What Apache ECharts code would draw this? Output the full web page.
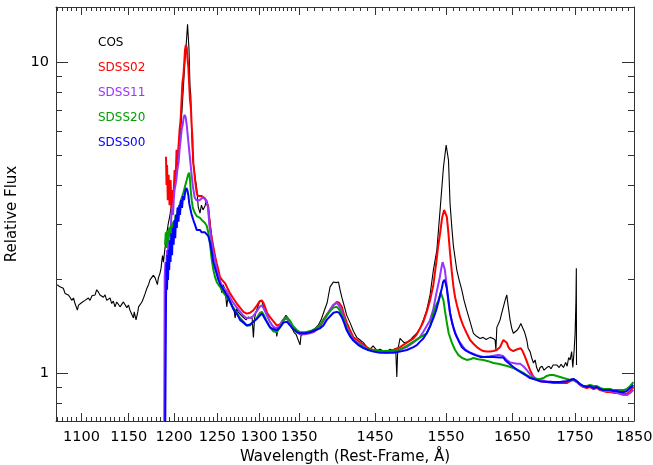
<!DOCTYPE html>
<html>
<head>
<meta charset="utf-8">
<script src="https://cdn.jsdelivr.net/npm/echarts@6/dist/echarts.min.js"></script>
<style>
  html, body { margin: 0; padding: 0; background: #fff; }
  #chart { width: 653px; height: 465px; }
</style>
</head>
<body>
<div id="chart"></div>
<script>
// Rest-frame spectra: HST/COS and four SDSS epochs
const cosWave = [1075.3,1078.0,1081.4,1083.2,1084.9,1086.5,1088.2,1090.0,1091.8,1093.4,1095.8,1097.0,1098.5,1100.1,1102.0,1103.7,1105.5,1107.2,1108.9,1111.0,1114.2,1115.9,1117.6,1119.4,1121.2,1122.9,1124.7,1126.5,1128.2,1130.0,1131.8,1133.5,1135.3,1137.2,1138.9,1140.7,1142.5,1144.3,1146.2,1148.0,1149.8,1151.4,1153.4,1155.2,1156.0,1157.1,1158.0,1159.0,1159.9,1160.8,1162.3,1164.4,1166.2,1168.0,1169.9,1171.7,1173.3,1175.3,1177.1,1179.0,1180.8,1181.5,1182.6,1184.4,1185.6,1186.3,1187.2,1188.3,1189.4,1191.1,1193.4,1195.6,1197.9,1200.1,1202.4,1204.7,1206.9,1209.2,1210.9,1212.6,1214.3,1215.5,1216.4,1217.2,1217.5,1218.3,1219.2,1220.3,1221.4,1222.9,1224.6,1226.0,1227.8,1229.8,1231.5,1233.3,1235.6,1237.4,1239.2,1240.3,1241.5,1243.9,1246.2,1248.6,1250.9,1253.2,1255.2,1256.8,1259.2,1261.2,1262.7,1265.1,1267.5,1269.9,1271.1,1272.9,1274.6,1277.0,1279.5,1281.9,1284.3,1286.7,1289.1,1291.6,1293.2,1294.6,1296.4,1298.9,1301.3,1303.8,1306.2,1308.7,1311.2,1313.6,1316.1,1318.6,1321.1,1321.9,1323.5,1326.0,1328.5,1331.0,1333.5,1336.0,1338.5,1341.1,1343.6,1346.1,1348.6,1351.2,1352.5,1355.0,1358.9,1362.7,1366.6,1370.4,1374.4,1378.2,1382.2,1386.1,1389.9,1394.4,1397.9,1400.9,1403.0,1405.3,1407.4,1411.9,1416.3,1420.8,1425.3,1429.7,1434.2,1438.8,1443.2,1447.3,1452.4,1456.9,1461.1,1466.2,1470.6,1475.0,1478.4,1480.0,1481.2,1484.5,1487.4,1490.1,1494.0,1498.6,1503.3,1508.1,1512.7,1517.4,1522.2,1527.0,1531.8,1536.8,1541.5,1546.4,1550.3,1553.7,1556.0,1558.3,1560.9,1563.4,1565.9,1569.3,1573.2,1576.6,1580.6,1585.6,1590.6,1595.4,1600.6,1605.2,1609.7,1615.7,1620.3,1623.4,1624.6,1626.0,1628.7,1631.0,1633.3,1636.1,1638.7,1641.3,1643.3,1646.4,1649.0,1651.5,1654.2,1657.3,1660.4,1663.1,1666.2,1669.1,1672.5,1674.6,1677.7,1680.1,1683.0,1685.7,1688.1,1691.0,1693.5,1696.7,1699.9,1704.2,1707.9,1711.1,1714.4,1720.4,1724.2,1727.4,1731.2,1734.8,1737.2,1739.7,1742.1,1744.6,1746.5,1748.7,1750.3,1751.7,1752.3,1752.6];
const cosFlux = [1.92,1.89,1.87,1.80,1.82,1.78,1.75,1.71,1.74,1.67,1.59,1.65,1.63,1.68,1.67,1.71,1.69,1.74,1.71,1.77,1.78,1.85,1.82,1.78,1.80,1.75,1.78,1.71,1.71,1.74,1.67,1.70,1.63,1.69,1.67,1.63,1.63,1.69,1.67,1.62,1.65,1.59,1.57,1.50,1.57,1.59,1.48,1.46,1.57,1.63,1.65,1.69,1.74,1.80,1.87,1.92,1.99,1.97,2.06,2.02,2.04,1.92,2.02,2.09,2.17,2.27,2.38,2.27,2.44,2.67,2.99,3.22,3.59,3.87,4.33,4.83,5.61,7.00,8.42,10.13,11.75,13.2,13.3,10.91,10.13,8.32,7.82,5.90,4.86,4.55,4.17,3.93,3.41,3.26,3.46,3.34,3.44,3.59,3.46,3.22,3.06,2.67,2.45,2.27,2.14,2.02,1.81,1.92,1.85,1.63,1.77,1.71,1.65,1.59,1.50,1.61,1.57,1.55,1.52,1.50,1.48,1.51,1.53,1.50,1.30,1.50,1.57,1.64,1.71,1.69,1.61,1.55,1.50,1.46,1.42,1.39,1.37,1.31,1.39,1.41,1.46,1.50,1.53,1.50,1.43,1.39,1.35,1.33,1.34,1.23,1.32,1.33,1.34,1.36,1.37,1.39,1.42,1.48,1.58,1.68,1.89,1.96,1.95,1.96,1.85,1.75,1.68,1.53,1.45,1.36,1.30,1.275,1.25,1.21,1.19,1.22,1.18,1.19,1.175,1.17,1.19,1.18,1.20,0.97,1.18,1.29,1.27,1.25,1.255,1.275,1.31,1.34,1.39,1.48,1.59,1.78,2.14,2.48,3.34,4.59,5.40,4.83,3.51,2.99,2.56,2.34,2.14,1.99,1.85,1.71,1.59,1.46,1.34,1.31,1.29,1.30,1.28,1.30,1.29,1.275,1.184,1.40,1.44,1.48,1.55,1.63,1.71,1.78,1.65,1.48,1.39,1.34,1.34,1.37,1.40,1.44,1.42,1.35,1.275,1.20,1.17,1.12,1.075,1.10,1.04,1.006,1.04,1.05,1.02,1.04,1.05,1.03,1.06,1.06,1.04,1.065,1.04,1.08,1.05,1.12,1.10,1.17,1.04,1.18,1.34,1.71,2.17,1.06];

const sdss02Wave = [1191.1,1191.7,1192.3,1193.1,1194.0,1195.1,1196.2,1197.4,1198.5,1199.6,1200.8,1201.9,1203.0,1204.2,1205.3,1206.4,1207.6,1208.7,1209.6,1210.8,1211.9,1212.6,1213.6,1214.6,1215.3,1216.4,1217.5,1218.3,1219.5,1220.3,1221.2,1222.1,1223.2,1224.1,1225.2,1226.0,1227.5,1229.8,1231.8,1233.7,1235.6,1237.6,1239.5,1241.5,1243.5,1245.4,1247.4,1249.3,1251.3,1253.2,1255.6,1257.2,1259.2,1261.6,1265.1,1268.7,1273.2,1277.0,1281.1,1285.1,1289.1,1293.2,1297.2,1300.1,1303.3,1305.5,1307.4,1309.9,1313.6,1317.3,1321.9,1326.0,1330.2,1334.4,1338.5,1342.7,1347.4,1351.2,1355.4,1359.7,1364.0,1368.2,1372.5,1376.9,1381.2,1385.6,1389.9,1394.4,1398.7,1401.7,1405.3,1408.3,1411.9,1416.3,1420.8,1427.0,1434.2,1440.5,1447.7,1454.1,1461.5,1468.0,1475.4,1484.5,1494.0,1503.3,1508.1,1512.7,1517.4,1522.2,1527.0,1531.8,1535.8,1538.6,1541.5,1544.4,1547.4,1549.6,1551.3,1553.2,1556.0,1558.6,1561.0,1563.4,1566.4,1570.8,1575.2,1580.6,1585.6,1590.6,1595.7,1600.6,1605.6,1610.8,1615.7,1620.8,1626.0,1631.0,1634.1,1636.1,1638.7,1641.3,1643.9,1646.4,1649.0,1651.5,1654.2,1657.3,1660.4,1663.1,1665.9,1669.8,1673.8,1677.7,1683.0,1688.5,1693.5,1704.2,1715.0,1725.7,1736.6,1742.1,1747.6,1753.1,1758.5,1764.1,1769.7,1775.1,1780.8,1786.5,1791.9,1797.5,1803.2,1808.9,1814.6,1820.3,1826.0,1831.7,1837.5,1843.3,1849.0];
const sdss02Flux = [4.95,4.02,4.66,3.59,4.33,3.46,4.17,3.34,3.87,3.73,4.49,4.17,5.21,4.83,5.40,6.03,6.50,7.54,8.56,9.07,10.13,10.91,11.33,11.08,10.37,9.62,8.31,7.54,7.00,6.17,5.61,4.73,4.42,4.17,3.93,3.79,3.70,3.67,3.70,3.67,3.64,3.59,3.41,2.94,2.71,2.54,2.37,2.25,2.14,2.03,1.99,1.99,1.94,1.88,1.80,1.74,1.67,1.62,1.57,1.55,1.56,1.59,1.64,1.69,1.71,1.68,1.63,1.56,1.51,1.47,1.42,1.43,1.48,1.50,1.45,1.39,1.36,1.34,1.34,1.34,1.35,1.35,1.38,1.42,1.48,1.54,1.59,1.65,1.69,1.68,1.63,1.54,1.45,1.37,1.30,1.27,1.23,1.20,1.184,1.175,1.17,1.175,1.184,1.21,1.25,1.29,1.33,1.39,1.46,1.57,1.71,1.92,2.25,2.54,2.81,3.15,3.34,3.31,3.17,2.88,2.43,2.11,1.89,1.75,1.64,1.51,1.42,1.34,1.275,1.24,1.21,1.19,1.175,1.17,1.17,1.175,1.184,1.21,1.25,1.275,1.29,1.25,1.21,1.19,1.19,1.175,1.175,1.19,1.20,1.20,1.175,1.125,1.07,1.02,0.97,0.948,0.94,0.934,0.927,0.927,0.927,0.94,0.948,0.934,0.914,0.90,0.894,0.90,0.887,0.894,0.880,0.874,0.868,0.868,0.862,0.862,0.862,0.862,0.855,0.874,0.90];

const sdss11Wave = [1189.0,1189.6,1190.5,1191.4,1192.2,1193.1,1193.9,1195.0,1196.2,1197.3,1198.1,1199.0,1199.9,1200.7,1201.8,1202.7,1203.9,1205.3,1206.4,1207.6,1208.7,1209.9,1211.0,1212.2,1213.3,1214.8,1215.9,1217.1,1218.5,1219.9,1221.7,1223.6,1225.6,1227.4,1229.3,1231.3,1233.2,1235.2,1237.1,1239.0,1241.0,1243.0,1244.9,1246.8,1248.8,1250.7,1252.7,1256.6,1260.6,1264.6,1268.2,1272.6,1276.6,1280.6,1284.7,1288.7,1292.7,1296.8,1300.9,1303.4,1305.8,1308.3,1313.2,1317.3,1321.4,1325.6,1329.7,1333.9,1338.1,1342.3,1347.0,1350.8,1357.2,1363.6,1370.0,1376.5,1380.8,1385.2,1389.5,1393.9,1398.3,1401.3,1404.9,1407.9,1411.5,1415.9,1420.3,1426.6,1433.8,1440.1,1447.3,1456.5,1465.8,1475.0,1484.1,1493.6,1503.0,1512.3,1517.0,1521.8,1526.6,1531.4,1536.3,1541.1,1543.3,1545.1,1547.0,1548.5,1550.7,1553.3,1555.8,1558.3,1560.7,1565.7,1570.6,1578.1,1585.6,1595.7,1605.7,1615.8,1626.0,1631.0,1636.1,1641.3,1646.4,1651.5,1656.8,1662.0,1667.2,1672.5,1677.7,1683.0,1688.5,1693.5,1704.2,1715.0,1725.7,1736.6,1742.1,1747.6,1753.1,1758.5,1764.1,1769.7,1775.1,1780.8,1786.5,1791.9,1797.5,1803.2,1808.9,1814.6,1820.3,1826.0,1831.7,1837.5,1843.3,1849.0];
const sdss11Flux = [0.5,2.03,2.27,2.14,2.48,2.34,2.71,2.94,2.77,3.29,3.41,3.22,3.64,3.87,4.02,4.17,4.49,4.76,5.21,5.61,6.03,6.26,6.60,6.75,6.65,6.17,5.72,5.30,4.83,4.40,3.96,3.67,3.59,3.56,3.59,3.64,3.67,3.64,3.59,3.41,2.94,2.67,2.48,2.34,2.19,2.08,1.99,1.88,1.84,1.76,1.69,1.63,1.58,1.53,1.50,1.50,1.52,1.57,1.63,1.65,1.61,1.56,1.46,1.41,1.39,1.42,1.48,1.51,1.46,1.39,1.35,1.33,1.33,1.34,1.36,1.40,1.46,1.52,1.59,1.65,1.68,1.65,1.59,1.51,1.41,1.34,1.28,1.25,1.22,1.19,1.175,1.17,1.16,1.17,1.184,1.21,1.25,1.30,1.35,1.41,1.47,1.59,1.81,2.03,2.17,2.27,2.25,2.14,1.94,1.71,1.56,1.47,1.40,1.31,1.25,1.19,1.16,1.14,1.125,1.13,1.14,1.14,1.13,1.10,1.08,1.075,1.07,1.07,1.05,1.02,0.991,0.97,0.955,0.948,0.94,0.934,0.934,0.94,0.948,0.955,0.934,0.914,0.90,0.90,0.907,0.894,0.90,0.887,0.874,0.874,0.874,0.868,0.862,0.855,0.848,0.848,0.862,0.88];

const sdss20Wave = [1190.0,1190.9,1191.9,1192.8,1193.7,1194.7,1195.6,1196.7,1197.9,1199.3,1200.4,1201.8,1203.2,1204.7,1205.8,1206.9,1208.6,1210.7,1212.6,1214.6,1216.1,1217.5,1218.3,1219.1,1220.3,1221.4,1222.9,1224.1,1226.0,1227.9,1229.8,1231.8,1233.7,1235.6,1237.6,1239.5,1241.5,1243.5,1245.4,1247.4,1249.3,1251.3,1253.2,1257.2,1261.2,1265.1,1269.1,1273.1,1277.0,1281.1,1285.1,1289.1,1293.2,1297.2,1301.3,1303.8,1306.2,1308.7,1313.6,1317.7,1321.9,1326.0,1330.2,1334.4,1338.5,1342.7,1347.4,1351.2,1357.6,1364.0,1370.4,1376.9,1381.2,1385.6,1389.9,1394.4,1398.7,1401.7,1405.3,1408.3,1411.9,1416.3,1420.8,1427.0,1434.2,1440.5,1447.7,1456.9,1466.2,1475.4,1484.5,1494.0,1503.3,1512.7,1522.2,1527.0,1531.8,1535.8,1539.1,1542.6,1544.4,1546.4,1548.8,1551.3,1554.0,1558.6,1563.4,1568.4,1573.9,1580.6,1585.6,1590.6,1597.6,1605.6,1612.8,1620.8,1628.0,1636.1,1643.3,1651.5,1658.9,1667.2,1672.5,1677.7,1683.0,1688.5,1693.5,1698.9,1704.2,1709.6,1715.0,1720.4,1725.7,1731.2,1736.6,1742.1,1747.6,1753.1,1758.5,1764.1,1769.7,1775.1,1780.8,1786.5,1791.9,1797.5,1803.2,1808.9,1814.6,1820.3,1826.0,1831.7,1837.5,1843.3,1849.0];
const sdss20Flux = [2.58,2.83,2.52,2.88,2.63,2.92,2.75,2.99,2.83,3.06,2.92,3.22,3.17,3.41,3.34,3.51,3.64,3.78,3.98,4.17,4.33,4.40,4.17,3.87,3.59,3.41,3.31,3.26,3.19,3.17,3.15,3.10,3.08,3.03,2.97,2.82,2.58,2.31,2.14,2.03,1.96,1.92,1.89,1.81,1.75,1.69,1.62,1.56,1.50,1.46,1.42,1.42,1.46,1.50,1.56,1.57,1.53,1.48,1.40,1.36,1.35,1.40,1.47,1.51,1.47,1.41,1.37,1.35,1.35,1.36,1.38,1.42,1.48,1.53,1.58,1.62,1.63,1.60,1.54,1.48,1.39,1.32,1.275,1.24,1.21,1.19,1.184,1.175,1.175,1.175,1.19,1.22,1.26,1.30,1.34,1.41,1.56,1.65,1.71,1.81,1.79,1.71,1.57,1.45,1.34,1.25,1.184,1.14,1.116,1.10,1.105,1.116,1.105,1.10,1.09,1.075,1.07,1.06,1.05,1.036,1.021,0.999,0.984,0.97,0.962,0.955,0.955,0.962,0.977,0.984,0.984,0.977,0.97,0.962,0.955,0.948,0.955,0.94,0.92,0.907,0.907,0.914,0.907,0.907,0.894,0.887,0.887,0.887,0.88,0.88,0.88,0.88,0.887,0.907,0.934];

const sdss00Wave = [1190.0,1191.1,1191.7,1192.3,1192.8,1193.4,1194.1,1194.7,1195.4,1196.2,1197.0,1197.9,1198.8,1199.7,1200.6,1201.5,1202.4,1203.3,1204.2,1205.2,1206.1,1206.9,1208.1,1209.2,1210.4,1211.5,1212.8,1214.1,1215.2,1216.4,1217.4,1218.3,1220.0,1222.1,1224.1,1226.0,1227.9,1229.8,1231.8,1233.7,1235.6,1237.6,1239.5,1241.5,1243.5,1245.4,1247.4,1249.3,1251.3,1253.2,1255.2,1257.2,1261.2,1265.1,1269.1,1273.1,1277.0,1281.1,1285.1,1289.1,1293.2,1297.2,1301.3,1303.8,1306.2,1308.7,1313.6,1317.7,1321.9,1326.0,1330.2,1334.4,1338.5,1342.7,1347.4,1351.2,1357.6,1364.0,1370.4,1376.9,1381.2,1385.6,1389.9,1394.4,1398.7,1401.7,1405.3,1408.3,1411.9,1416.3,1420.8,1427.0,1434.2,1440.5,1447.7,1456.9,1466.2,1475.4,1484.5,1494.0,1503.3,1508.1,1512.7,1517.4,1522.2,1527.0,1531.8,1535.8,1539.1,1541.5,1544.0,1545.9,1547.9,1549.6,1551.3,1553.7,1556.0,1559.0,1563.4,1568.4,1573.2,1578.1,1585.6,1593.1,1600.6,1610.8,1620.8,1631.0,1636.1,1638.7,1643.9,1651.5,1657.3,1664.7,1672.5,1677.7,1683.0,1688.5,1693.5,1704.2,1715.0,1725.7,1736.6,1742.1,1747.6,1753.1,1758.5,1764.1,1769.7,1775.1,1780.8,1786.5,1791.9,1797.5,1803.2,1808.9,1814.6,1820.3,1826.0,1831.7,1837.5,1843.3,1849.0];
const sdss00Flux = [0.5,1.71,2.27,1.85,2.39,1.99,2.48,2.14,2.67,2.27,2.81,2.39,2.92,2.58,3.10,2.71,3.22,2.92,3.39,3.06,3.46,3.22,3.59,3.39,3.70,3.59,3.82,3.93,3.87,3.73,3.51,3.41,3.24,3.10,2.99,2.88,2.86,2.88,2.83,2.81,2.83,2.81,2.75,2.63,2.45,2.27,2.17,2.08,1.99,1.93,1.89,1.85,1.78,1.69,1.60,1.55,1.48,1.45,1.42,1.43,1.46,1.49,1.53,1.55,1.51,1.47,1.40,1.38,1.37,1.40,1.45,1.46,1.42,1.38,1.35,1.34,1.34,1.35,1.37,1.39,1.42,1.48,1.52,1.56,1.57,1.56,1.51,1.45,1.37,1.31,1.27,1.23,1.20,1.184,1.17,1.16,1.16,1.16,1.17,1.184,1.21,1.228,1.26,1.29,1.34,1.41,1.50,1.59,1.69,1.78,1.87,1.96,1.99,1.94,1.87,1.71,1.56,1.45,1.34,1.27,1.21,1.184,1.16,1.14,1.125,1.125,1.125,1.12,1.12,1.10,1.075,1.044,1.021,0.999,0.977,0.962,0.955,0.948,0.94,0.934,0.934,0.934,0.94,0.948,0.955,0.94,0.92,0.907,0.90,0.907,0.894,0.90,0.887,0.88,0.88,0.88,0.874,0.874,0.868,0.868,0.874,0.894,0.914];

// Axis ticks and labels
const xLabelValues = [1100, 1150, 1200, 1250, 1300, 1350, 1450, 1550, 1650, 1750, 1850];
const yLabelValues = [1, 10];
const yMinorValues = [0.8, 0.9, 2, 3, 4, 5, 6, 7, 8, 9];

// minor wavelength ticks: every 5 A up to 1350, every 10 A beyond
const xMinorValues = [];
for (let w = 1075; w < 1350; w += 5) if (!xLabelValues.includes(w)) xMinorValues.push(w);
for (let w = 1360; w < 1850; w += 10) if (!xLabelValues.includes(w)) xMinorValues.push(w);

const seriesDefs = [
  { name: 'COS',    wave: cosWave,    flux: cosFlux,    color: '#000000', width: 1.1 },
  { name: 'SDSS02', wave: sdss02Wave, flux: sdss02Flux, color: '#ff0000', width: 2 },
  { name: 'SDSS11', wave: sdss11Wave, flux: sdss11Flux, color: '#9933ff', width: 2 },
  { name: 'SDSS20', wave: sdss20Wave, flux: sdss20Flux, color: '#00a000', width: 2 },
  { name: 'SDSS00', wave: sdss00Wave, flux: sdss00Flux, color: '#0000ff', width: 2 }
];

const FONT = 'DejaVu Sans';
const AX = '#333333';

function xAxisDef(position, ticks, len, withLabels, showLine) {
  return {
    type: 'log', logBase: 10, min: 1074, max: 1850, position: position,
    axisLine: { show: showLine, onZero: false, lineStyle: { color: AX, width: 1 } },
    axisTick: { show: true, inside: true, length: len, customValues: ticks, lineStyle: { color: AX, width: 1 } },
    axisLabel: withLabels ? {
      show: true, customValues: xLabelValues, margin: 9,
      color: '#000', fontFamily: FONT, fontSize: 14.5,
      formatter: v => String(Math.round(v))
    } : { show: false },
    splitLine: { show: false }, minorTick: { show: false },
    name: withLabels ? 'Wavelength (Rest-Frame, Å)' : '',
    nameLocation: 'middle', nameGap: 28,
    nameTextStyle: { color: '#000', fontFamily: FONT, fontSize: 15 }
  };
}
function yAxisDef(position, ticks, len, withLabels, showLine) {
  return {
    type: 'log', logBase: 10, min: 0.7, max: 15, position: position,
    axisLine: { show: showLine, onZero: false, lineStyle: { color: AX, width: 1 } },
    axisTick: { show: true, inside: true, length: len, customValues: ticks, lineStyle: { color: AX, width: 1 } },
    axisLabel: withLabels ? {
      show: true, customValues: yLabelValues, margin: 7,
      color: '#000', fontFamily: FONT, fontSize: 14.5,
      formatter: v => String(Math.round(v))
    } : { show: false },
    splitLine: { show: false }, minorTick: { show: false },
    name: withLabels ? 'Relative Flux' : '',
    nameLocation: 'middle', nameGap: 33,
    nameTextStyle: { color: '#000', fontFamily: FONT, fontSize: 15 }
  };
}

const chart = echarts.init(document.getElementById('chart'), null, { renderer: 'canvas' });
chart.setOption({
  animation: false,
  backgroundColor: '#ffffff',
  textStyle: { fontFamily: FONT },
  grid: { left: 56, right: 19, top: 7, bottom: 44, containLabel: false, outerBoundsMode: 'none' },
  xAxis: [
    xAxisDef('bottom', xLabelValues, 8, true, true),
    xAxisDef('bottom', xMinorValues, 4, false, false),
    xAxisDef('top', xLabelValues, 8, false, true),
    xAxisDef('top', xMinorValues, 4, false, false)
  ],
  yAxis: [
    yAxisDef('left', yLabelValues, 12, true, true),
    yAxisDef('left', yMinorValues, 6, false, false),
    yAxisDef('right', yLabelValues, 12, false, true),
    yAxisDef('right', yMinorValues, 6, false, false)
  ],
  series: seriesDefs.map(s => ({
    name: s.name,
    type: 'line',
    xAxisIndex: 0, yAxisIndex: 0,
    data: s.wave.map((w, i) => [w, s.flux[i]]),
    showSymbol: false, symbol: 'none',
    clip: true,
    lineStyle: { color: s.color, width: s.width },
    itemStyle: { color: s.color },
    emphasis: { disabled: true }
  })),
  graphic: seriesDefs.map((s, i) => ({
    type: 'text', left: 98, top: 44 + i * 25 - 7,
    style: { text: s.name, fill: s.color, font: '12px "DejaVu Sans"' }
  }))
});
</script>
</body>
</html>
